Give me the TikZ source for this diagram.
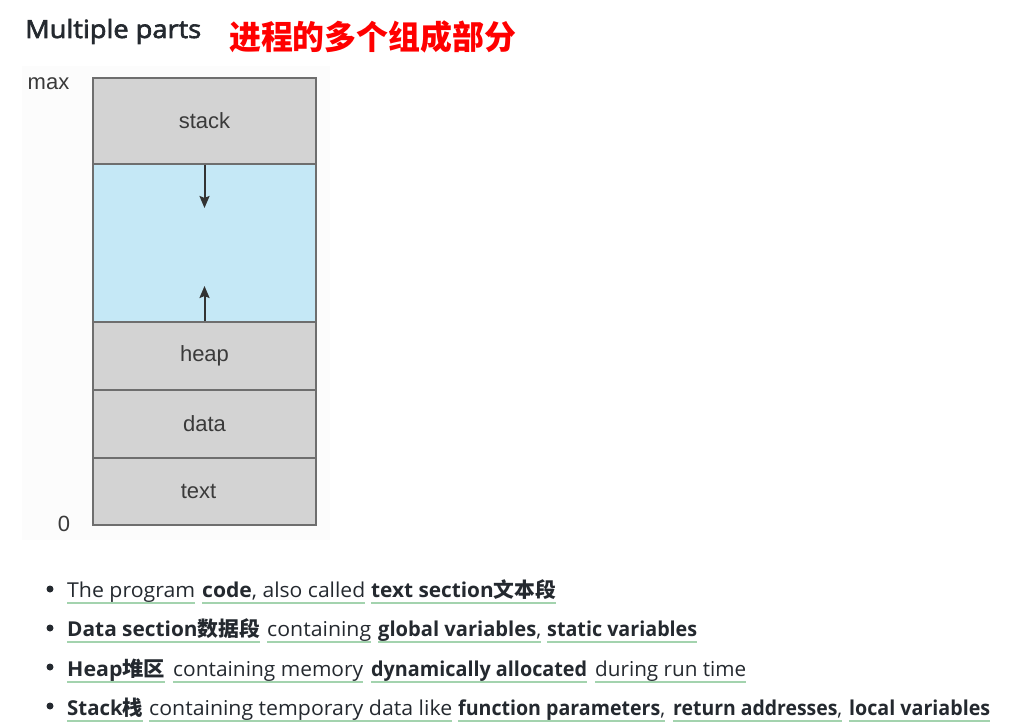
\documentclass[tikz,border=0pt]{standalone}
\usepackage{fontspec}
\usepackage{graphicx}
\setmainfont{Open Sans}
\newfontfamily\cjk{Noto Sans CJK SC}
\newfontfamily\hel{Liberation Sans}
\newfontfamily\ttlfont[FakeBold=2.5]{Open Sans}
\usetikzlibrary{arrows.meta,calc}
\definecolor{txt}{HTML}{24292F}
\definecolor{uln}{HTML}{A3D3AE}
\definecolor{cellgray}{HTML}{D3D3D3}
\definecolor{cellblue}{HTML}{C5E8F6}
\definecolor{edge}{HTML}{6E6E6E}
\definecolor{lbl}{HTML}{3A3A3A}
\tikzset{
  seg/.style={anchor=base west, inner sep=0pt, text=txt, font=\fontsize{20.5}{24}\selectfont},
  uline/.style={draw=uln, line width=2pt},
  cell/.style={draw=edge, line width=1.4pt, minimum width=223pt, inner sep=0pt, text=lbl, font=\hel\fontsize{22}{26}\selectfont},
  axis/.style={inner sep=0pt, text=lbl, font=\hel\fontsize{22}{26}\selectfont},
  arr/.style={draw=black!80, line width=2pt, -{Stealth[length=12pt,width=10pt,inset=2pt]}},
  bullet/.style={circle, fill=txt, inner sep=0pt, minimum size=7pt}
}
\newcommand\segm[5]{%
  \node[seg] (#1) at (#2,#4) {\resizebox{\dimexpr #3pt - #2pt\relax}{\height}{#5}};
  \draw[uline] ([yshift=-6pt]#1.base west) -- ([yshift=-6pt]#1.base east);}
\begin{document}
\begin{tikzpicture}[x=1pt,y=-1pt]
\useasboundingbox (0,0) rectangle (1026,727);
% titles
\node[anchor=base west, inner sep=0pt, text=txt, font=\ttlfont\fontsize{25}{30}\selectfont] (title) at (25,38) {\resizebox{176pt}{\height}{Multiple parts}};
\node[anchor=west, inner sep=0pt, text=red, font=\cjk\bfseries\fontsize{33}{38}\selectfont] (ctitle) at (229,37) {\resizebox{287pt}{\height}{进程的多个组成部分}};
% faint figure background
\fill[black!1] (22,66) rectangle (330,540);
% memory layout
\node[cell, fill=cellgray, minimum height=86pt] (stack) at (204.5,121) {stack};
\node[cell, fill=cellblue, minimum height=158pt] (free) at (204.5,243) {};
\node[cell, fill=cellgray, minimum height=68pt] (heap) at (204.5,356) {heap};
\node[cell, fill=cellgray, minimum height=68pt] (data) at (204.5,424) {data};
\node[cell, fill=cellgray, minimum height=67pt] (text) at (204.5,491.5) {\hspace*{-12pt}text};
\coordinate (sdown) at (204.5,208);
\coordinate (hup) at (204.5,286);
\draw[arr] (stack.south) -- (sdown);
\draw[arr] (heap.north) -- (hup);
\node[axis] (max) at (48.5,84) {max};
\node[axis] (zero) at (64,524) {0};
% bullets
\node[bullet] (b1) at (50,589) {};
\node[bullet] (b2) at (50,628) {};
\node[bullet] (b3) at (50,667) {};
\node[bullet] (b4) at (50,706) {};
% line 1
\segm{l1a}{67}{195}{597}{The program}
\segm{l1b}{202}{365}{597}{\textbf{code}, also called}
\segm{l1c}{371}{556}{597}{\textbf{text section{\cjk 文本段}}}
% line 2
\segm{l2a}{67}{260}{636}{\textbf{Data section{\cjk 数据段}}}
\segm{l2b}{267}{371}{636}{containing}
\segm{l2c}{378}{541}{636}{\textbf{global variables},}
\segm{l2d}{547}{697}{636}{\textbf{static variables}}
% line 3
\segm{l3a}{67}{165}{676}{\textbf{Heap{\cjk 堆区}}}
\segm{l3b}{173}{363}{676}{containing memory}
\segm{l3c}{371}{587}{676}{\textbf{dynamically allocated}}
\segm{l3d}{595}{746}{676}{during run time}
% line 4
\segm{l4a}{67}{143}{715}{\textbf{Stack{\cjk 栈}}}
\segm{l4b}{149}{452}{715}{containing temporary data like}
\segm{l4c}{458}{665}{715}{\textbf{function parameters},}
\segm{l4d}{673}{842}{715}{\textbf{return addresses},}
\segm{l4e}{849}{990}{715}{\textbf{local variables}}
\end{tikzpicture}
\end{document}
